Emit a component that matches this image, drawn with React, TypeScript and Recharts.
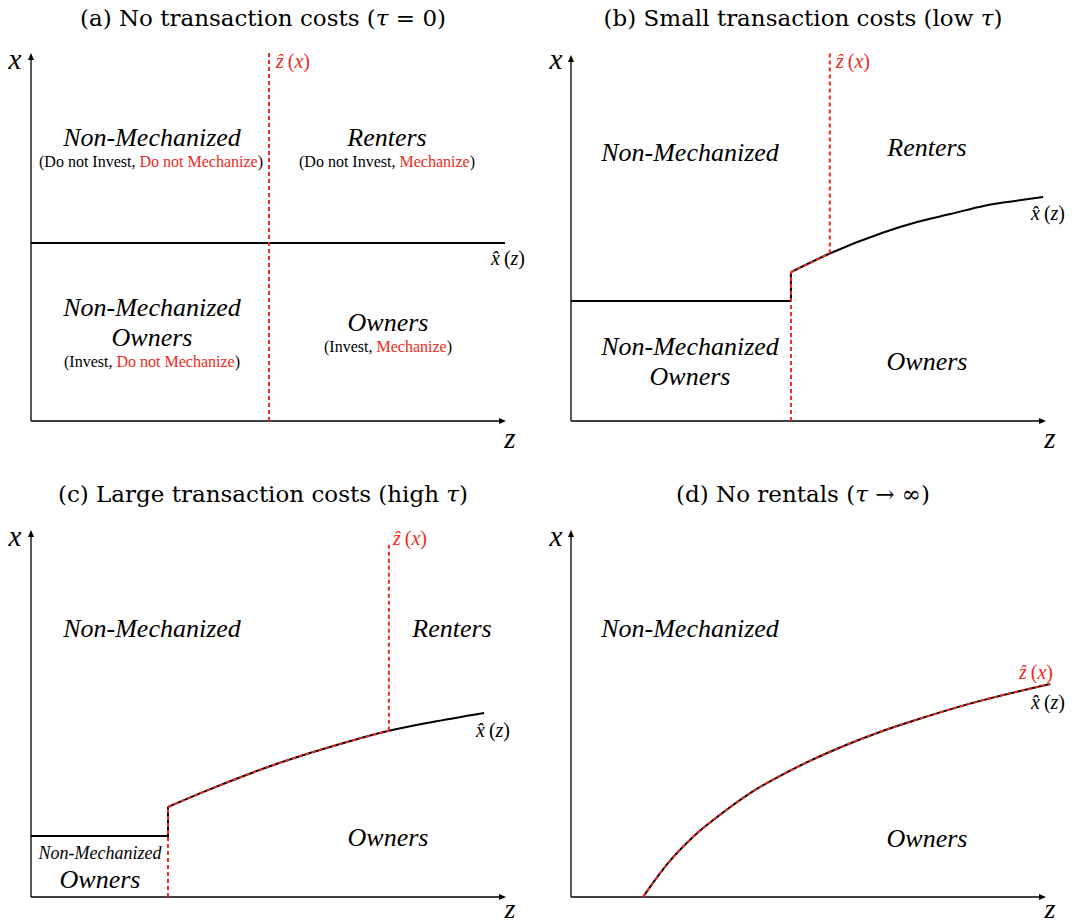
import React from 'react'
import { LineChart, Line, XAxis, YAxis, ReferenceLine, ReferenceDot } from 'recharts'

const RED = '#ee2a20'
const FONT = '"Liberation Serif", "Times New Roman", serif'
const TITLE_FONT = '"DejaVu Serif", "Liberation Serif", serif'
const TOP = 104 // domain top, a bit past the arrow tips

// (a) no transaction costs
const aBoundary = [{ z: 0, x: 48.5 }, { z: 100, x: 48.5 }]
const aCutoff = [{ z: 50.2, x: 0 }, { z: 50.2, x: 101 }]

// (b) small transaction costs
const bFlat = [{ z: 0, x: 32.9 }, { z: 46.4, x: 32.9 }, { z: 46.4, x: 40.8 }]
const bCurve = [
  { z: 46.4, x: 40.8 }, { z: 54.6, x: 45.9 }, { z: 65.6, x: 51.5 }, { z: 73.0, x: 54.5 },
  { z: 80.0, x: 56.7 }, { z: 87.3, x: 59.0 }, { z: 93.7, x: 60.3 }, { z: 99.6, x: 61.4 },
]
const bRedJump = [{ z: 46.4, x: 0 }, { z: 46.4, x: 40.8 }]
const bRedAlong = bCurve.slice(0, 2)
const bRedUp = [{ z: 54.6, x: 45.9 }, { z: 54.6, x: 101 }]

// (c) large transaction costs
const cFlat = [{ z: 0, x: 16.7 }, { z: 28.9, x: 16.7 }, { z: 28.9, x: 24.6 }]
const cCurve = [
  { z: 28.9, x: 24.6 }, { z: 37.3, x: 29.2 }, { z: 51.9, x: 36.4 }, { z: 66.5, x: 42.3 },
  { z: 75.5, x: 45.4 }, { z: 84.2, x: 47.7 }, { z: 95.6, x: 50.3 },
]
const cRedJump = [{ z: 28.9, x: 0 }, { z: 28.9, x: 24.6 }]
const cRedAlong = cCurve.slice(0, 5)
const cRedUp = [{ z: 75.5, x: 45.4 }, { z: 75.5, x: 96.7 }]

// (d) no rentals
const dCurve = [
  { z: 15.2, x: 0 }, { z: 20.5, x: 9.3 }, { z: 25.9, x: 16.6 }, { z: 32.1, x: 23.1 },
  { z: 38.2, x: 28.7 }, { z: 47.7, x: 35.5 }, { z: 57.4, x: 41.2 }, { z: 65.6, x: 45.3 },
  { z: 74.3, x: 49.0 }, { z: 83.8, x: 52.7 }, { z: 101.1, x: 58.2 },
]

const arrowRight = (p: any) => (
  <path d={`M${p.cx + 1},${p.cy} L${p.cx - 6},${p.cy - 3} L${p.cx - 6},${p.cy + 3} Z`} fill="#000" />
)
const arrowUp = (p: any) => (
  <path d={`M${p.cx},${p.cy - 1} L${p.cx - 3},${p.cy + 6} L${p.cx + 3},${p.cy + 6} Z`} fill="#000" />
)

function black(data: any[], type: any = 'linear') {
  return (
    <Line data={data} dataKey="x" type={type} stroke="#000" strokeWidth={2}
      dot={false} activeDot={false} isAnimationActive={false} />
  )
}
function red(data: any[], type: any = 'linear') {
  return (
    <Line data={data} dataKey="x" type={type} stroke={RED} strokeWidth={2} strokeDasharray="4 3"
      dot={false} activeDot={false} isAnimationActive={false} />
  )
}

function Panel({ left, top, w, h, origin, tip, children }: any) {
  const ml = origin[0] - left
  const pw = ((tip[0] - origin[0]) * TOP) / 100
  const ph = ((origin[1] - tip[1]) * TOP) / 100
  const mt = origin[1] - ph - top
  const margin = { left: ml, right: w - ml - pw, top: mt, bottom: h - (origin[1] - top) }
  return (
    <div style={{ position: 'absolute', left, top }}>
      <LineChart width={w} height={h} margin={margin}>
        <XAxis dataKey="z" type="number" domain={[0, TOP]} hide />
        <YAxis type="number" domain={[0, TOP]} hide />
        <ReferenceLine segment={[{ x: 0, y: 0 }, { x: 99, y: 0 }]} stroke="#000" strokeWidth={1.3} />
        <ReferenceLine segment={[{ x: 0, y: 0 }, { x: 0, y: 99 }]} stroke="#000" strokeWidth={1.3} />
        <ReferenceDot x={100} y={0} r={0} shape={arrowRight} />
        <ReferenceDot x={0} y={100} r={0} shape={arrowUp} />
        {children}
      </LineChart>
    </div>
  )
}

function T({ x, y, size = 26, italic = true, color = '#000', align = 'center', font = FONT, children }: any) {
  return (
    <div style={{
      position: 'absolute', left: x, top: y, whiteSpace: 'nowrap', fontFamily: font,
      fontSize: size, fontStyle: italic ? 'italic' : 'normal', color, lineHeight: 1,
      transform: align === 'center' ? 'translate(-50%, -50%)' : 'translate(0, -50%)',
    }}>{children}</div>
  )
}

const R = ({ children }: any) => <span style={{ color: RED }}>{children}</span>

function ZHat({ x, y }: any) {
  return (
    <T x={x} y={y} size={20} color={RED} align="left">
      ẑ<span style={{ fontStyle: 'normal' }}>&thinsp;(</span>x<span style={{ fontStyle: 'normal' }}>)</span>
    </T>
  )
}
function XHat({ x, y }: any) {
  return (
    <T x={x} y={y} size={20} align="left">
      x&#770;<span style={{ fontStyle: 'normal' }}>&thinsp;(</span>z<span style={{ fontStyle: 'normal' }}>)</span>
    </T>
  )
}
function Title({ x, y, children }: any) {
  return <T x={x} y={y} size={23} italic={false} font={TITLE_FONT}>{children}</T>
}

export default function App() {
  return (
    <div style={{ position: 'absolute', left: 0, top: 0, width: 1075, height: 923, background: '#fff', overflow: 'hidden' }}>
      <Panel left={0} top={0} w={540} h={470} origin={[31, 421]} tip={[505, 54]}>
        {black(aBoundary)}
        {red(aCutoff)}
      </Panel>
      <Panel left={540} top={0} w={535} h={470} origin={[571, 421]} tip={[1045, 56]}>
        {black(bFlat)}
        {black(bCurve, 'monotoneX')}
        {red(bRedJump)}
        {red(bRedAlong)}
        {red(bRedUp)}
      </Panel>
      <Panel left={0} top={465} w={540} h={458} origin={[31, 897]} tip={[505, 531]}>
        {black(cFlat)}
        {black(cCurve, 'monotoneX')}
        {red(cRedJump)}
        {red(cRedAlong, 'monotoneX')}
        {red(cRedUp)}
      </Panel>
      <Panel left={540} top={465} w={535} h={458} origin={[571, 897]} tip={[1045, 531]}>
        {black(dCurve, 'monotoneX')}
        {red(dCurve, 'monotoneX')}
      </Panel>

      {/* titles */}
      <Title x={263} y={18}>(a) No transaction costs (<i>τ</i> = 0)</Title>
      <Title x={803} y={18}>(b) Small transaction costs (low <i>τ</i>)</Title>
      <Title x={263} y={494}>(c) Large transaction costs (high <i>τ</i>)</Title>
      <Title x={803} y={494}>(d) No rentals (<i>τ</i> → ∞)</Title>

      {/* axis names */}
      <T x={15} y={59} size={29}>x</T>
      <T x={510} y={438} size={29}>z</T>
      <T x={556} y={59} size={29}>x</T>
      <T x={1050} y={438} size={29}>z</T>
      <T x={15} y={536} size={29}>x</T>
      <T x={510} y={909} size={28}>z</T>
      <T x={556} y={536} size={29}>x</T>
      <T x={1050} y={909} size={28}>z</T>

      {/* (a) */}
      <ZHat x={276} y={61} />
      <XHat x={491} y={258} />
      <T x={152} y={138}>Non-Mechanized</T>
      <T x={151} y={162} size={16} italic={false}>(Do not Invest, <R>Do not Mechanize</R>)</T>
      <T x={387} y={138}>Renters</T>
      <T x={387} y={162} size={16} italic={false}>(Do not Invest, <R>Mechanize</R>)</T>
      <T x={152} y={308}>Non-Mechanized</T>
      <T x={152} y={338}>Owners</T>
      <T x={152} y={362} size={16} italic={false}>(Invest, <R>Do not Mechanize</R>)</T>
      <T x={388} y={323}>Owners</T>
      <T x={388} y={347} size={16} italic={false}>(Invest, <R>Mechanize</R>)</T>

      {/* (b) */}
      <ZHat x={836} y={61} />
      <XHat x={1031} y={213} />
      <T x={690} y={153}>Non-Mechanized</T>
      <T x={927} y={148}>Renters</T>
      <T x={690} y={347}>Non-Mechanized</T>
      <T x={690} y={377}>Owners</T>
      <T x={927} y={362}>Owners</T>

      {/* (c) */}
      <ZHat x={393} y={538} />
      <XHat x={476} y={730} />
      <T x={152} y={629}>Non-Mechanized</T>
      <T x={452} y={629}>Renters</T>
      <T x={100} y={853} size={18}>Non-Mechanized</T>
      <T x={100} y={880}>Owners</T>
      <T x={388} y={838}>Owners</T>

      {/* (d) */}
      <ZHat x={1019} y={672} />
      <XHat x={1031} y={702} />
      <T x={690} y={629}>Non-Mechanized</T>
      <T x={927} y={839}>Owners</T>
    </div>
  )
}
